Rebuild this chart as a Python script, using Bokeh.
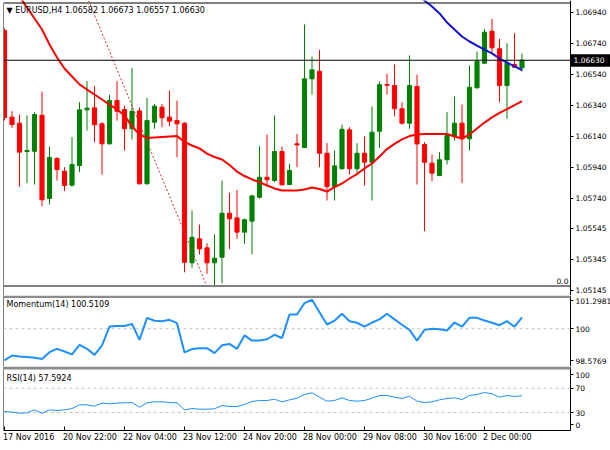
from bokeh.plotting import figure
from bokeh.layouts import column
from bokeh.models import (Range1d, FixedTicker, Label, LinearAxis, BoxAnnotation,
                          PrintfTickFormatter, CustomJSTickFormatter)
from bokeh.core.properties import value
from bokeh.embed import file_html
from bokeh.resources import INLINE

# ---------------- data ----------------
opens = [1.06822, 1.06263, 1.06224, 1.06041, 1.06043, 1.06275, 1.05738, 1.05996, 1.05914, 1.05824,
         1.05951, 1.06310, 1.06323, 1.06220, 1.06091, 1.06370, 1.06312, 1.06188, 1.06303, 1.05833,
         1.06230, 1.06327, 1.06263, 1.06241, 1.06224, 1.05323, 1.05478, 1.05420, 1.05323, 1.05359,
         1.05643, 1.05613, 1.05521, 1.05592, 1.05746, 1.05875, 1.05854, 1.06041, 1.05828, 1.06091,
         1.06067, 1.06510, 1.06559, 1.06030, 1.05815, 1.05930, 1.06181, 1.05930, 1.06030, 1.05972,
         1.06172, 1.06474, 1.06467, 1.06317, 1.06224, 1.06461, 1.06086, 1.05966, 1.05886, 1.05988,
         1.06144, 1.06224, 1.06123, 1.06452, 1.06611, 1.06817, 1.06704, 1.06467, 1.06603, 1.06582]
highs = [1.06835, 1.06301, 1.06280, 1.06274, 1.06295, 1.06428, 1.06073, 1.06004, 1.05940, 1.06134,
         1.06359, 1.06495, 1.06463, 1.06230, 1.06407, 1.06495, 1.06338, 1.06581, 1.06325, 1.06388,
         1.06349, 1.06349, 1.06435, 1.06370, 1.06230, 1.05661, 1.05570, 1.05450, 1.05506, 1.05854,
         1.05775, 1.05794, 1.05609, 1.05762, 1.06075, 1.06151, 1.06274, 1.06073, 1.05962, 1.06155,
         1.06861, 1.06654, 1.06697, 1.06095, 1.06048, 1.06215, 1.06198, 1.06095, 1.06138, 1.06332,
         1.06493, 1.06543, 1.06603, 1.06359, 1.06661, 1.06538, 1.06101, 1.06022, 1.06037, 1.06295,
         1.06396, 1.06344, 1.06596, 1.06686, 1.06833, 1.06897, 1.06768, 1.06740, 1.06805, 1.06673]
lows = [1.06241, 1.06194, 1.05815, 1.05837, 1.05828, 1.05688, 1.05699, 1.05854, 1.05785, 1.05815,
        1.05908, 1.06177, 1.06101, 1.05893, 1.06086, 1.06241, 1.06048, 1.06119, 1.05828, 1.05828,
        1.06188, 1.06198, 1.06204, 1.06004, 1.05262, 1.05291, 1.05377, 1.05252, 1.05180, 1.05190,
        1.05413, 1.05478, 1.05446, 1.05377, 1.05738, 1.05822, 1.05843, 1.05822, 1.05825, 1.05940,
        1.06063, 1.06409, 1.05940, 1.05725, 1.05725, 1.05925, 1.05893, 1.05893, 1.05822, 1.05725,
        1.06065, 1.06409, 1.06267, 1.06215, 1.06188, 1.05828, 1.05527, 1.05850, 1.05883, 1.05957,
        1.06112, 1.05837, 1.06048, 1.06448, 1.06607, 1.06675, 1.06359, 1.06252, 1.06580, 1.06557]
closes = [1.06261, 1.06215, 1.06037, 1.06048, 1.06280, 1.05730, 1.06003, 1.05925, 1.05822, 1.05957,
          1.06310, 1.06321, 1.06214, 1.06091, 1.06370, 1.06301, 1.06188, 1.06301, 1.05833, 1.06241,
          1.06334, 1.06259, 1.06237, 1.06220, 1.05327, 1.05488, 1.05413, 1.05323, 1.05353, 1.05643,
          1.05607, 1.05521, 1.05601, 1.05755, 1.05875, 1.05859, 1.06041, 1.05826, 1.05919, 1.06084,
          1.06510, 1.06568, 1.06030, 1.05815, 1.05949, 1.06185, 1.05930, 1.06030, 1.05972, 1.06166,
          1.06472, 1.06469, 1.06317, 1.06224, 1.06467, 1.06090, 1.05972, 1.05901, 1.05988, 1.06144,
          1.06224, 1.06123, 1.06456, 1.06622, 1.06811, 1.06710, 1.06467, 1.06611, 1.06585, 1.06630]

ma_red = [1.07183, 1.07112, 1.07041, 1.06970, 1.06899, 1.06828, 1.06732, 1.06648, 1.06577, 1.06525,
          1.06474, 1.06441, 1.06409, 1.06377, 1.06344, 1.06312, 1.06274, 1.06203, 1.06151, 1.06128,
          1.06132, 1.06135, 1.06138, 1.06141, 1.06103, 1.06080, 1.06061, 1.06028, 1.06006, 1.05990,
          1.05954, 1.05912, 1.05883, 1.05861, 1.05844, 1.05822, 1.05803, 1.05790, 1.05790, 1.05790,
          1.05796, 1.05809, 1.05799, 1.05783, 1.05812, 1.05835, 1.05867, 1.05896, 1.05932, 1.05964,
          1.06009, 1.06057, 1.06090, 1.06119, 1.06141, 1.06151, 1.06154, 1.06154, 1.06154, 1.06154,
          1.06138, 1.06125, 1.06151, 1.06190, 1.06228, 1.06261, 1.06290, 1.06315, 1.06341, 1.06366]
ma_blue_start = 55
ma_blue = [1.07067, 1.07015, 1.06977, 1.06932, 1.06874, 1.06828, 1.06783, 1.06751,
           1.06725, 1.06699, 1.06674, 1.06641, 1.06615, 1.06590, 1.06567]

momentum = [98.58, 98.80, 98.76, 98.73, 98.70, 98.64, 98.95, 99.10, 98.98, 98.85,
            99.28, 99.10, 98.83, 99.25, 100.10, 100.12, 100.12, 100.22, 99.50, 100.49,
            100.36, 100.34, 100.40, 100.25, 98.94, 99.09, 99.13, 99.13, 98.91, 99.26,
            99.32, 99.10, 99.70, 99.47, 99.47, 99.53, 99.73, 99.58, 100.64, 100.64,
            101.15, 101.30, 100.74, 100.19, 100.36, 100.67, 100.34, 100.27, 100.10, 100.28,
            100.42, 100.67, 100.42, 100.18, 99.95, 99.47, 99.95, 100.00, 99.98, 99.92,
            100.28, 100.10, 100.49, 100.49, 100.37, 100.27, 100.16, 100.34, 100.09, 100.51]

rsi = [31.7, 30.6, 28.9, 29.5, 34.4, 28.9, 34.4, 33.3, 34.4, 36.6,
       42.7, 42.7, 40.5, 45.4, 44.3, 45.4, 46.0, 46.5, 38.8, 46.0,
       47.6, 47.6, 46.5, 46.0, 34.4, 36.6, 35.5, 35.5, 36.1, 41.6,
       39.9, 39.9, 43.2, 48.1, 49.8, 49.8, 52.0, 47.6, 50.9, 53.6,
       59.7, 62.4, 55.3, 48.7, 49.8, 54.2, 49.8, 48.7, 49.8, 53.6,
       58.0, 58.0, 55.3, 53.1, 56.9, 48.7, 46.5, 47.6, 50.9, 53.1,
       54.2, 51.4, 58.0, 59.7, 63.0, 60.8, 55.3, 58.0, 56.4, 57.59]

date_idx = [0, 8, 16, 24, 32, 40, 48, 56, 64]
date_txt = ["17 Nov 2016", "20 Nov 22:00", "22 Nov 04:00", "23 Nov 12:00", "24 Nov 20:00",
            "28 Nov 00:00", "29 Nov 08:00", "30 Nov 16:00", "2 Dec 00:00"]

price_ticks = [1.05145, 1.05345, 1.05545, 1.05740, 1.05940, 1.06140, 1.06340, 1.06540, 1.06740, 1.06940]
mom_tick_txt = ["98.5769", "100", "101.2981"]
mom_level = 100.0
rsi_levels = [30, 70]
rsi_tick_txt = ["0", "30", "70", "100"]

trend_x = [11.0, 26.9]
trend_y = [1.07038, 1.05181]
last_price = 1.06630
header = "\u25BC EURUSD,H4  1.06582 1.06673 1.06557 1.06630"
mom_title = "Momentum(14) 100.5109"
rsi_title = "RSI(14) 57.5924"
extra_txt = "0.0"

# ---------------- layout (pixel geometry of the page) ----------------
FONT = "DejaVu Sans"
SEP = "#8c8c8c"
LEVEL = "#c8c0b8"
W = 610
PX_BAR = 7.5
X0 = 4.0


def xd(c):
    return (c - X0) / PX_BAR


X_LEFT = xd(3)
X_AXIS = xd(570)
MAIN_TOP, MAIN_BOT = 0, 295
MOM_TOP, MOM_BOT = 295, 366
RSI_TOP, RSI_AXIS, RSI_BOT = 366, 430, 448


def yd_main(c):
    return 1.06940 - (c - 11.7) / 15500.0


def yd_mom(c):
    return 101.2981 - (c - 299.3) / 22.306


def yd_rsi(c):
    return 100.0 - (c - 369.5) / 0.6075


xr = Range1d(xd(0), xd(W))


def make_fig(top, bot, yfun):
    p = figure(width=W, height=bot - top, x_range=xr, y_range=Range1d(yfun(bot), yfun(top)),
               title=None, output_backend="svg", toolbar_location=None,
               x_axis_location=None, y_axis_location=None)
    p.min_border = 0
    p.min_border_left = 0
    p.min_border_right = 0
    p.min_border_top = 0
    p.min_border_bottom = 0
    p.outline_line_color = None
    p.background_fill_color = "white"
    p.border_fill_color = "white"
    for g in p.grid:
        g.visible = False
    # blank strip left of the chart border
    p.add_layout(BoxAnnotation(left=xd(0), right=X_LEFT, fill_color="white", fill_alpha=1.0,
                               line_alpha=0))
    return p


def add_axis(p, ticks, fmt, bounds=None):
    ax = LinearAxis(fixed_location=X_AXIS, ticker=FixedTicker(ticks=ticks), formatter=fmt)
    if bounds is not None:
        ax.bounds = bounds
    ax.axis_line_color = "black"
    ax.axis_line_width = 1
    ax.major_tick_out = 3
    ax.major_tick_in = 0
    ax.minor_tick_out = 0
    ax.minor_tick_in = 0
    ax.major_tick_line_color = "black"
    ax.major_label_standoff = 2
    ax.major_label_text_font = FONT
    ax.major_label_text_font_size = "7.5px"
    ax.major_label_text_color = "black"
    p.add_layout(ax, "right")


def js_fmt(pos, txt):
    return CustomJSTickFormatter(args=dict(pos=pos, txt=txt), code="""
        for (let i = 0; i < pos.length; i++) {
            if (Math.abs(pos[i] - tick) < 1e-6) { return txt[i]; }
        }
        return "";
    """)


def border(p, y0, y1):
    p.segment(x0=[X_LEFT], x1=[X_LEFT], y0=[y0], y1=[y1], line_color="black", line_width=1)


# ---- main price panel ----
main = make_fig(MAIN_TOP, MAIN_BOT, yd_main)
idx = list(range(len(opens)))
cols = ["#008000" if c >= o else "#ff0000" for o, c in zip(opens, closes)]
main.segment(x0=idx, x1=idx, y0=lows, y1=highs, line_color=cols, line_width=1)
main.vbar(x=idx, width=0.55, top=[max(o, c) for o, c in zip(opens, closes)],
          bottom=[min(o, c) for o, c in zip(opens, closes)],
          fill_color=cols, line_color=cols, line_width=1)
main.line(idx, ma_red, line_color="#ff0000", line_width=2)
main.line(idx[ma_blue_start:], ma_blue, line_color="#1010d8", line_width=2)
main.line(trend_x, trend_y, line_color="#c83232", line_width=1, line_dash="2 2")

main.segment(x0=[X_LEFT], x1=[X_AXIS], y0=[last_price], y1=[last_price],
             line_color="black", line_width=1)
# chart frame: top, bottom, left
main.segment(x0=[X_LEFT, X_LEFT], x1=[X_AXIS, X_AXIS], y0=[yd_main(2.5), yd_main(285.5)],
             y1=[yd_main(2.5), yd_main(285.5)], line_color="black", line_width=1)
border(main, yd_main(295), yd_main(2.5))
# current price tag on the scale
main.quad(left=[xd(570.5)], right=[xd(609.5)], bottom=[last_price - 6.5 / 15500.0],
          top=[last_price + 6.0 / 15500.0], fill_color="black", line_color=None)
main.text(x=[xd(573)], y=[last_price], text=[f"{last_price:.5f}"], text_font=value(FONT),
          text_font_size=value("7.5px"), text_color="white", text_align="left",
          text_baseline="middle")
add_axis(main, price_ticks, PrintfTickFormatter(format="%.5f"))
main.add_layout(Label(x=6, y=MAIN_BOT - 10, x_units="screen", y_units="screen", text=header,
                      text_font=FONT, text_font_size="8px", text_color="black",
                      text_baseline="middle", text_align="left"))
main.add_layout(Label(x=568, y=MAIN_BOT - 280, x_units="screen", y_units="screen",
                      text=extra_txt, text_font=FONT, text_font_size="7.5px",
                      text_color="black", text_baseline="middle", text_align="right"))

# ---- momentum panel ----
mom = make_fig(MOM_TOP, MOM_BOT, yd_mom)
mom.add_layout(BoxAnnotation(left=X_LEFT, right=X_AXIS, bottom=yd_mom(297.5), top=yd_mom(MOM_TOP),
                             fill_color=SEP, fill_alpha=1.0, line_alpha=0))
border(mom, yd_mom(MOM_BOT), yd_mom(MOM_TOP))
mom.segment(x0=[X_LEFT], x1=[X_AXIS], y0=[mom_level], y1=[mom_level], line_color=LEVEL,
            line_width=1, line_dash="3 3")
mom.line(idx, momentum, line_color="#1e90ff", line_width=2)
mom_tick_pos = [yd_mom(360.0), mom_level, yd_mom(300.0)]
add_axis(mom, mom_tick_pos, js_fmt(mom_tick_pos, mom_tick_txt))
mom.add_layout(Label(x=6, y=(MOM_BOT - MOM_TOP) - 9, x_units="screen", y_units="screen",
                     text=mom_title, text_font=FONT, text_font_size="8px", text_color="black",
                     text_baseline="middle", text_align="left"))

# ---- RSI panel ----
rp = make_fig(RSI_TOP, RSI_BOT, yd_rsi)
rp.add_layout(BoxAnnotation(left=X_LEFT, right=X_AXIS, bottom=yd_rsi(369), top=yd_rsi(RSI_TOP),
                            fill_color=SEP, fill_alpha=1.0, line_alpha=0))
border(rp, yd_rsi(RSI_AXIS), yd_rsi(RSI_TOP))
for lv in rsi_levels:
    rp.segment(x0=[X_LEFT], x1=[X_AXIS], y0=[lv], y1=[lv], line_color=LEVEL,
               line_width=1, line_dash="3 3")
rp.line(idx, rsi, line_color="#1e90ff", line_width=1)
rsi_tick_pos = [yd_rsi(424.3), 30, 70, yd_rsi(374.0)]
add_axis(rp, rsi_tick_pos, js_fmt(rsi_tick_pos, rsi_tick_txt),
         bounds=(yd_rsi(RSI_AXIS), yd_rsi(RSI_TOP)))
rp.add_layout(Label(x=6, y=(RSI_BOT - RSI_TOP) - 11.5, x_units="screen", y_units="screen",
                    text=rsi_title, text_font=FONT, text_font_size="8px", text_color="black",
                    text_baseline="middle", text_align="left"))
# time axis
rp.segment(x0=[X_LEFT], x1=[X_AXIS], y0=[yd_rsi(RSI_AXIS)], y1=[yd_rsi(RSI_AXIS)],
           line_color="black", line_width=1)
n = len(date_idx)
rp.segment(x0=date_idx, x1=date_idx, y0=[yd_rsi(RSI_AXIS)] * n, y1=[yd_rsi(RSI_AXIS - 4)] * n,
           line_color="black", line_width=1)
rp.text(x=date_idx, y=[yd_rsi(437.0)] * n, text=date_txt, text_font=value(FONT),
        text_font_size=value("8px"), text_color="black", text_align="left",
        text_baseline="middle", x_offset=-1.5)

layout = column(main, mom, rp, spacing=0)

open("out.html", "w").write(file_html(layout, INLINE))
